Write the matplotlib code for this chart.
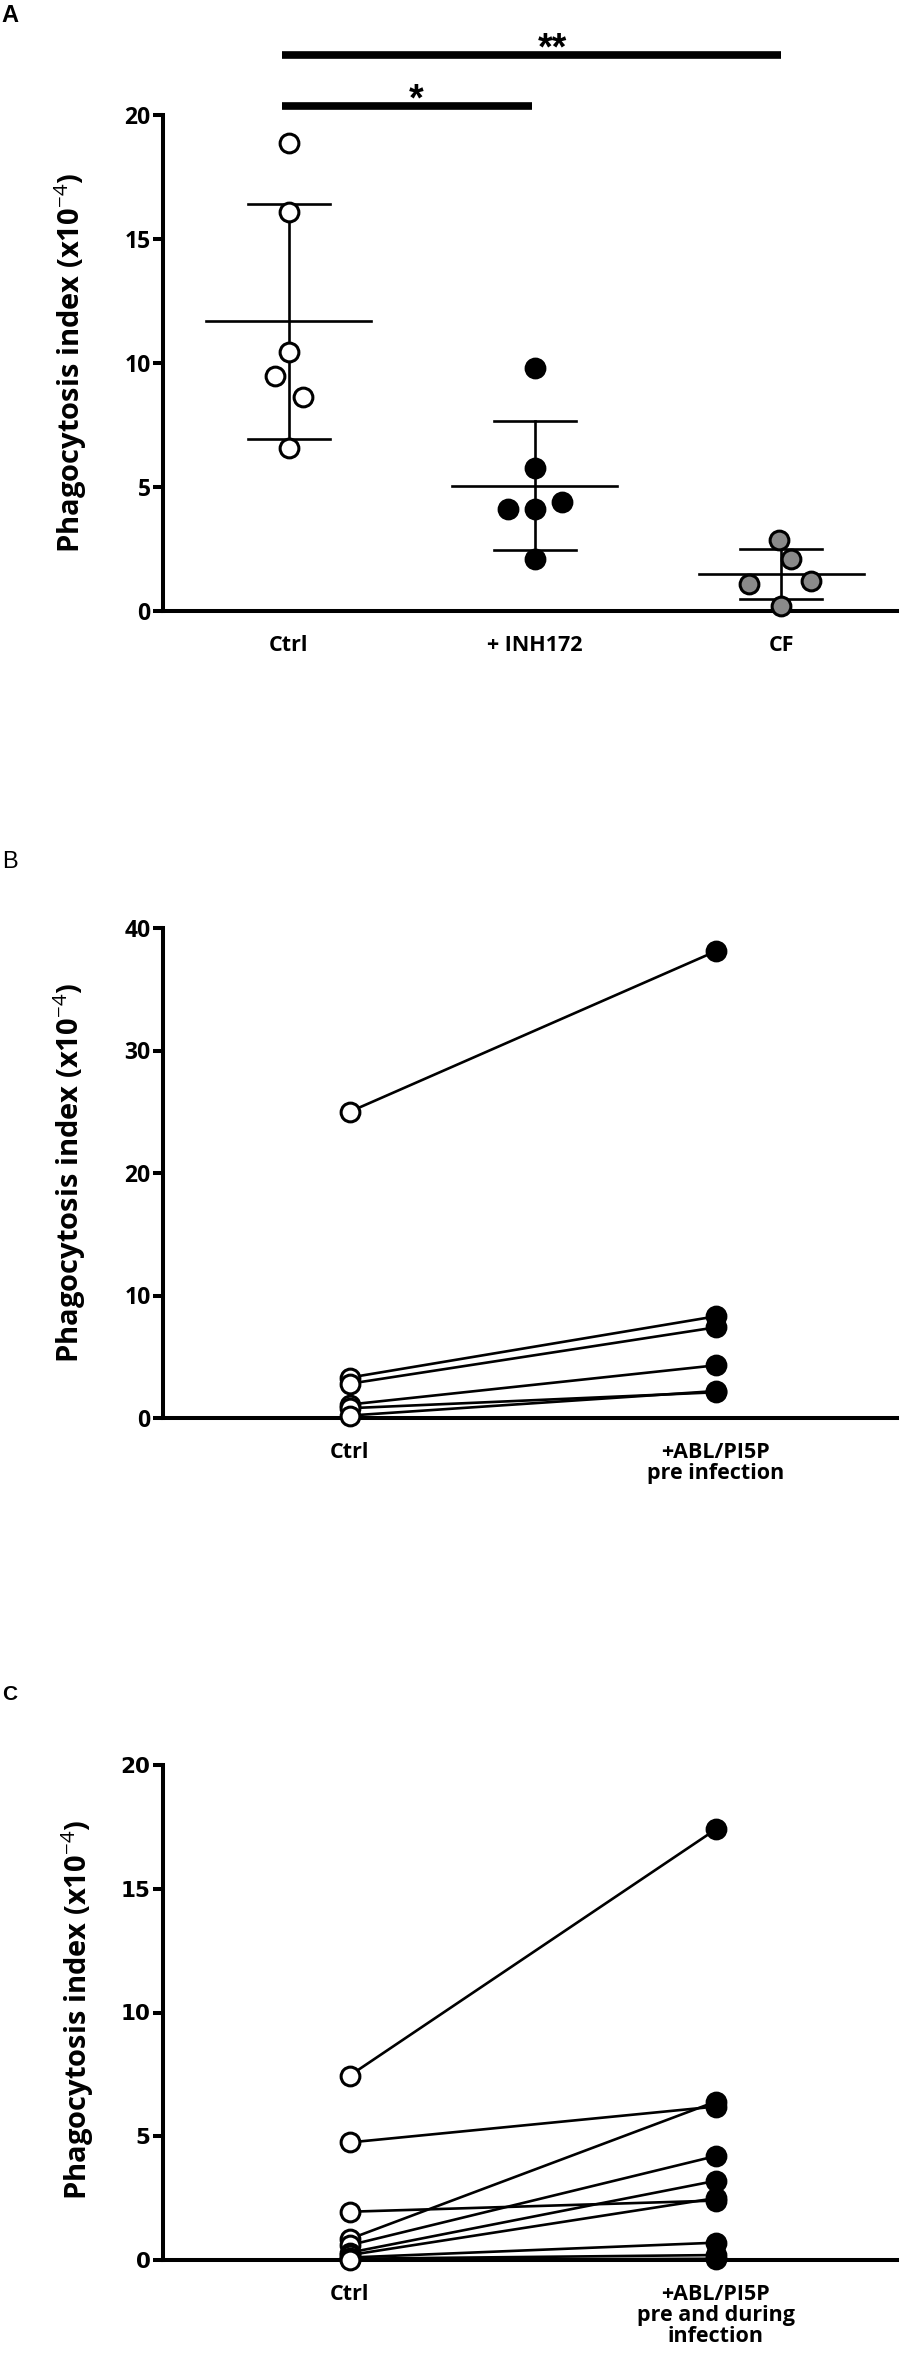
import matplotlib.pyplot as plt
import numpy as np

W, H, DPI = 910, 2372, 100

# ---- panel A: scatter with mean +/- SD ----
groups_a = ["Ctrl", "+ INH172", "CF"]
ctrl_a = [18.86, 16.08, 10.46, 9.48, 8.64, 6.56]
inh172_a = [9.78, 5.77, 4.1, 4.1, 4.4, 2.1]
cf_a = [2.85, 2.1, 1.1, 1.2, 0.2]
yticks_a = [0, 5, 10, 15, 20]

# ---- panel B: paired, pre infection ----
labels_b = ["Ctrl", "+ABL/PI5P\npre infection"]
ctrl_b = [25.0, 3.3, 2.8, 1.1, 0.8, 0.2]
abl_b = [38.1, 8.3, 7.4, 4.3, 2.1, 2.2]
yticks_b = [0, 10, 20, 30, 40]

# ---- panel C: paired, pre and during infection ----
labels_c = ["Ctrl", "+ABL/PI5P\npre and during\ninfection"]
ctrl_c = [7.45, 4.75, 1.95, 0.85, 0.6, 0.3, 0.2, 0.1, 0.05, 0.0]
abl_c = [17.4, 6.2, 2.4, 6.4, 4.2, 3.2, 2.5, 0.7, 0.2, 0.05]
yticks_c = [0, 5, 10, 15, 20]

# horizontal scatter offsets for panel A (layout only)
jitter_a = [
    [0, 0, 0, -0.057, 0.057, 0],
    [0, 0, -0.11, 0, 0.11, 0],
    [-0.01, 0.04, -0.13, 0.12, 0.0],
]

FONT = "Open Sans"
plt.rcParams["mathtext.fontset"] = "custom"
plt.rcParams["mathtext.rm"] = FONT
plt.rcParams["mathtext.bf"] = FONT + ":bold"

LW_AX = 2.9
LW = 1.9
MS = 13.5
MEW = 2.2
YLAB = r"Phagocytosis index (x10$^{\mathrm{-4}}$)"

fig = plt.figure(figsize=(W / DPI, H / DPI), dpi=DPI)


def axes_px(left, top, right, bottom):
    return fig.add_axes([left / W, 1 - bottom / H, (right - left) / W, (bottom - top) / H])


def style(ax, ylim, yticks, tickfont, ticksize):
    for s in ("top", "right"):
        ax.spines[s].set_visible(False)
    for s in ("left", "bottom"):
        ax.spines[s].set_linewidth(LW_AX)
    ax.set_ylim(*ylim)
    ax.set_yticks(yticks)
    ax.tick_params(axis="y", length=7.5, width=LW_AX, pad=1.5)
    ax.tick_params(axis="x", length=0, pad=17)
    for t in ax.get_yticklabels():
        t.set_fontfamily(tickfont)
        t.set_fontweight("bold")
        t.set_fontsize(ticksize)
    for t in ax.get_xticklabels():
        t.set_fontfamily(FONT)
        t.set_fontweight("bold")
        t.set_fontsize(15.5)
        t.set_linespacing(1.0)


# ---------------- panel A ----------------
axA = axes_px(163, 115, 897, 611)
data_a = [ctrl_a, inh172_a, cf_a]
faces = ["white", "black", "#8a8a8a"]
for i, vals in enumerate(data_a):
    vals = np.array(vals)
    m, sd = vals.mean(), vals.std(ddof=1)
    axA.plot([i - 0.335, i + 0.335], [m, m], color="black", lw=LW, zorder=2)
    axA.plot([i, i], [m - sd, m + sd], color="black", lw=LW, zorder=2)
    for y in (m - sd, m + sd):
        axA.plot([i - 0.166, i + 0.166], [y, y], color="black", lw=LW, zorder=2)
    axA.plot(i + np.array(jitter_a[i]), vals, "o", ms=MS, mfc=faces[i], mec="black",
             mew=MEW, zorder=3, clip_on=False)
axA.set_xlim(-0.51, 2.47)
axA.set_xticks(range(3), groups_a)
style(axA, (0, 20), yticks_a, FONT, 16.5)

# significance bars
axA.plot([-0.025, 2.0], [22.42, 22.42], color="black", lw=5.5, clip_on=False,
         solid_capstyle="butt")
axA.plot([-0.025, 0.99], [20.36, 20.36], color="black", lw=5.5, clip_on=False,
         solid_capstyle="butt")
axA.text(0.516, 20.2, "*", ha="center", va="baseline", fontsize=27, fontweight="bold",
         family="Liberation Sans", clip_on=False)
axA.text(1.07, 22.22, "**", ha="center", va="baseline", fontsize=27, fontweight="bold",
         family="Liberation Sans", clip_on=False)

# ---------------- paired panels ----------------
def paired(top, bottom, before, after, labels, ylim, yticks, tickfont, ticksize):
    ax = axes_px(163, top, 897, bottom)
    for b, a in zip(before, after):
        ax.plot([0, 1], [b, a], color="black", lw=LW, zorder=2, clip_on=False)
    ax.plot(np.zeros(len(before)), before, "o", ms=MS, mfc="white", mec="black",
            mew=MEW, zorder=3, clip_on=False)
    ax.plot(np.ones(len(after)), after, "o", ms=MS, mfc="black", mec="black",
            mew=MEW, zorder=3, clip_on=False)
    ax.set_xlim(-0.51, 1.495)
    ax.set_xticks([0, 1], labels)
    style(ax, ylim, yticks, tickfont, ticksize)
    return ax


axB = paired(928, 1418, ctrl_b, abl_b, labels_b, (0, 40), yticks_b, FONT, 16.5)
axC = paired(1765, 2260, ctrl_c, abl_c, labels_c, (0, 20), yticks_c, "DejaVu Sans", 15.5)

# y labels
for x, y in ((71, 363), (70, 1173), (78, 2010)):
    fig.text(x / W, 1 - y / H, YLAB, rotation=90, ha="center", va="center",
             fontsize=21, fontweight="bold", family=FONT)

# panel letters
fig.text(10 / W, 1 - 15 / H, "A", ha="center", va="center", fontsize=17,
         fontweight="bold", family="Liberation Sans")
fig.text(10 / W, 1 - 862 / H, "B", ha="center", va="center", fontsize=17,
         family="Liberation Sans")
fig.text(10 / W, 1 - 1695 / H, "C", ha="center", va="center", fontsize=15,
         fontweight="bold", family="Liberation Sans")

fig.savefig("out.png", dpi=DPI)
